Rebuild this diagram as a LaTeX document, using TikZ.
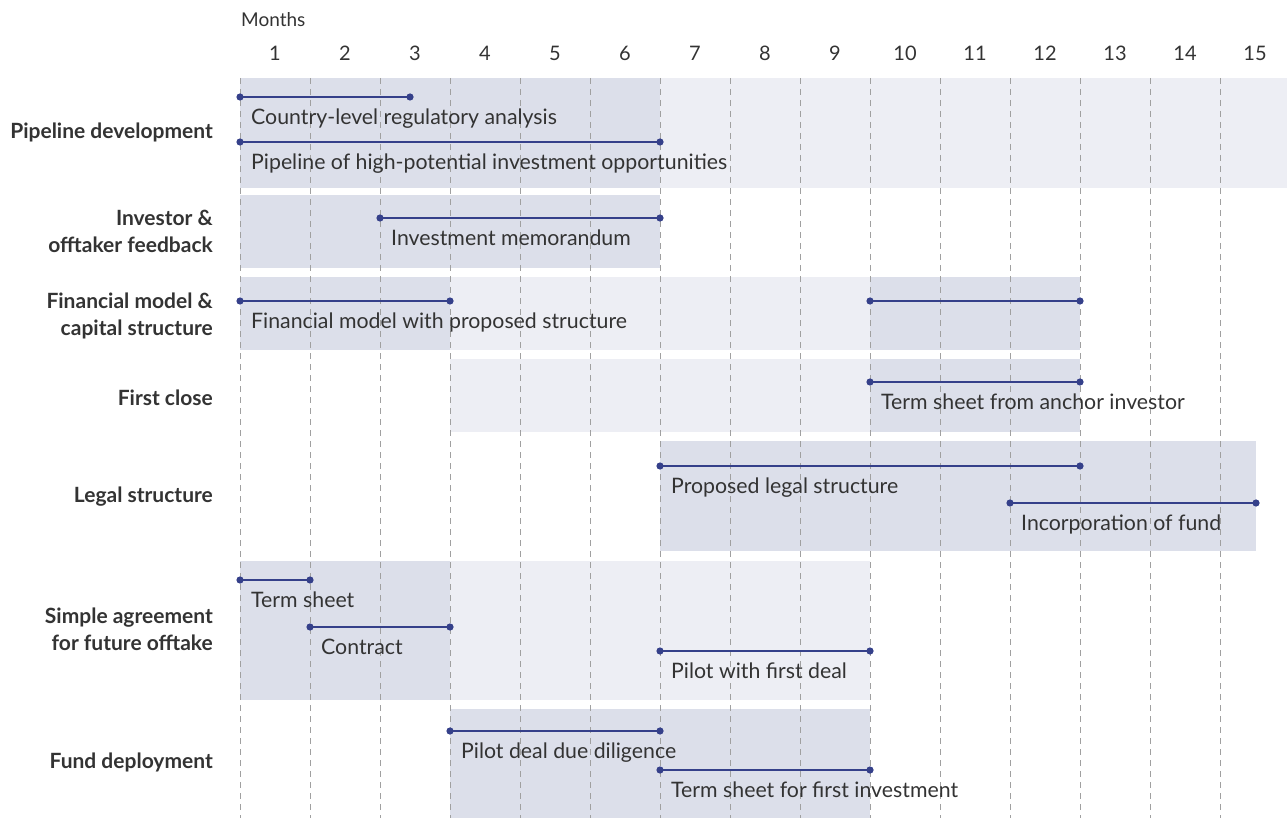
\documentclass[tikz,border=0pt]{standalone}
\usepackage{fontspec}
\setmainfont{Lato}
\definecolor{darkband}{HTML}{DCDFEA}
\definecolor{lightband}{HTML}{EDEEF4}
\definecolor{navy}{HTML}{35408A}
\definecolor{txt}{HTML}{333333}
\definecolor{grid}{HTML}{A0A0A0}
\tikzset{
  taskline/.style={navy, line width=2.4pt},
  tasklabel/.style={anchor=base west, inner sep=0pt, text=txt, font=\fontsize{21.3}{25}\selectfont},
  rowlabel/.style={anchor=east, inner sep=0pt, align=right, text=txt, font=\bfseries\fontsize{21}{27}\selectfont},
  monthnum/.style={inner sep=0pt, text=txt, font=\fontsize{20}{23}\selectfont},
  gridline/.style={grid, line width=1pt, dash pattern=on 6pt off 5pt},
}
\newcommand{\gtask}[5]{%
  \coordinate (#1s) at (#2,#4);
  \coordinate (#1e) at (#3,#4);
  \draw[taskline] (#1s) -- (#1e);
  \fill[navy] (#1s) circle (3.6);
  \fill[navy] (#1e) circle (3.6);
  \node[tasklabel] (#1l) at (#2+11,#4+27.8) {#5};}
\begin{document}
\begin{tikzpicture}[x=1pt,y=-1pt]
\useasboundingbox (0,0) rectangle (1287,818);
% bands
\fill[lightband] (660,78) rectangle (1287,188);
\fill[darkband] (240,78) rectangle (660,188);
\fill[darkband] (240,195) rectangle (660,268);
\fill[darkband] (240,277) rectangle (450,350);
\fill[lightband] (450,277) rectangle (870,350);
\fill[darkband] (870,277) rectangle (1080,350);
\fill[lightband] (450,359) rectangle (870,432);
\fill[darkband] (870,359) rectangle (1080,432);
\fill[darkband] (660,441) rectangle (1256,551);
\fill[darkband] (240,561) rectangle (450,700);
\fill[lightband] (450,561) rectangle (870,700);
\fill[darkband] (450,709) rectangle (870,818);
% grid
\foreach \k in {0,...,14} {
  \draw[gridline] (240+70*\k,78) -- (240+70*\k,818);
}
% header
\node[anchor=base west, inner sep=0pt, text=txt, font=\fontsize{19}{22}\selectfont] (months) at (241,26.5) {Months};
\foreach \m in {1,...,15} {
  \node[monthnum] (m\m) at (240+70*\m-35,53.5) {\m};
}
% row labels
\node[rowlabel] (r1) at (213,132) {Pipeline development};
\node[rowlabel] (r2) at (213,231) {Investor \&\\offtaker feedback};
\node[rowlabel] (r3) at (213,316) {Financial model \&\\capital structure};
\node[rowlabel] (r4) at (213,398) {First close};
\node[rowlabel] (r5) at (213,497) {Legal structure};
\node[rowlabel] (r6) at (213,629) {Simple agreement\\for future offtake};
\node[rowlabel] (r7) at (213,762) {Fund deployment};
% tasks
\gtask{t1}{240}{410}{97}{Country-level regulatory analysis}
\gtask{t2}{240}{660}{142}{Pipeline of high-potential investment opportunities}
\gtask{t3}{380}{660}{218}{Investment memorandum}
\gtask{t4}{240}{450}{301}{Financial model with proposed structure}
\coordinate (t5s) at (870,301); \coordinate (t5e) at (1080,301);
\draw[taskline] (t5s) -- (t5e);
\fill[navy] (t5s) circle (3.6); \fill[navy] (t5e) circle (3.6);
\gtask{t6}{870}{1080}{382}{Term sheet from anchor investor}
\gtask{t7}{660}{1080}{466}{Proposed legal structure}
\gtask{t8}{1010}{1256}{503}{Incorporation of fund}
\gtask{t9}{240}{310}{580}{Term sheet}
\gtask{t10}{310}{450}{627}{Contract}
\gtask{t11}{660}{870}{651}{Pilot with first deal}
\gtask{t12}{450}{660}{731}{Pilot deal due diligence}
\gtask{t13}{660}{870}{770}{Term sheet for first investment}
\end{tikzpicture}
\end{document}
